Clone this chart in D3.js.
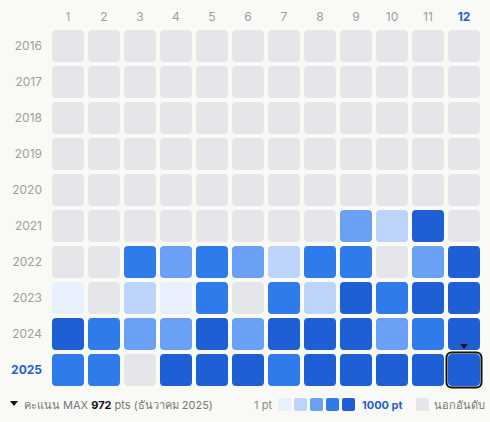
<!DOCTYPE html>
<html><head><meta charset="utf-8">
<script src="https://cdn.jsdelivr.net/npm/d3@7"></script>
<style>body{margin:0;background:#f9f9f6;font-family:Inter,"Noto Sans",sans-serif;}</style>
</head><body><svg id="c" width="490" height="422"></svg>
<script>
const months = ["1","2","3","4","5","6","7","8","9","10","11","12"];
const years = ["2016","2017","2018","2019","2020","2021","2022","2023","2024","2025"];
// points per month, null = out of ranking
const pts2016 = [null,null,null,null,null,null,null,null,null,null,null,null];
const pts2017 = [null,null,null,null,null,null,null,null,null,null,null,null];
const pts2018 = [null,null,null,null,null,null,null,null,null,null,null,null];
const pts2019 = [null,null,null,null,null,null,null,null,null,null,null,null];
const pts2020 = [null,null,null,null,null,null,null,null,null,null,null,null];
const pts2021 = [null,null,null,null,null,null,null,null,420,210,880,null];
const pts2022 = [null,null,650,400,660,410,200,640,630,null,390,870];
const pts2023 = [40,null,210,60,640,null,650,190,860,660,880,900];
const pts2024 = [890,650,400,380,880,420,900,870,910,400,650,890];
const pts2025 = [660,640,null,870,900,880,650,910,890,900,920,972];
const points = [pts2016,pts2017,pts2018,pts2019,pts2020,pts2021,pts2022,pts2023,pts2024,pts2025];
const legendLevels = [1,200,400,650,900];

const svg = d3.select("#c");
const x = d3.scaleBand().domain(months).range([50,482]).paddingInner(4/36).paddingOuter(2/36);
const y = d3.scaleBand().domain(years).range([28,388]).paddingInner(4/36).paddingOuter(2/36);
const color = d3.scaleThreshold().domain([100,300,500,800])
  .range(["#e8f0fd","#bcd3fa","#6aa0f3","#2f7bec","#1f5fd6"]);
const empty = "#e5e6ea";

svg.append("g").selectAll("text").data(months).join("text")
  .attr("x", d => x(d) + x.bandwidth()/2).attr("y", 21)
  .attr("text-anchor","middle").attr("font-size",12)
  .attr("font-weight", d => d === "12" ? 700 : 400)
  .attr("fill", d => d === "12" ? "#1f5fd6" : (d === "1" ? "#c09a94" : "#9a9ea8"))
  .text(d => d);

svg.append("g").selectAll("text").data(years).join("text")
  .attr("x", 42).attr("y", d => y(d) + y.bandwidth()/2 + 4)
  .attr("text-anchor","end").attr("font-size",12)
  .attr("font-weight", d => d === "2025" ? 700 : 400)
  .attr("fill", d => d === "2025" ? "#1f5fd6" : "#a59c9c")
  .text(d => d);

const cells = [];
points.forEach((row, i) => row.forEach((v, j) => cells.push({year: years[i], month: months[j], v})));
svg.append("g").selectAll("rect").data(cells).join("rect")
  .attr("x", d => x(d.month)).attr("y", d => y(d.year))
  .attr("width", x.bandwidth()).attr("height", y.bandwidth())
  .attr("rx", 4)
  .attr("fill", d => d.v == null ? empty : color(d.v));

// highlight max
const maxCell = cells.reduce((a, b) => (b.v || 0) > (a.v || 0) ? b : a);
svg.append("rect")
  .attr("x", x(maxCell.month) - 1.5).attr("y", y(maxCell.year) - 1.5)
  .attr("width", x.bandwidth() + 3).attr("height", y.bandwidth() + 3)
  .attr("rx", 5).attr("fill","none").attr("stroke","#111").attr("stroke-width",2);
const mx = x(maxCell.month) + x.bandwidth()/2, my = y(maxCell.year) - 7;
svg.append("path").attr("d", `M${mx-4},${my-3}L${mx+4},${my-3}L${mx},${my+2}Z`).attr("fill","#111");

// legend
const ly = 409;
svg.append("path").attr("d", `M10,${ly-8}L18,${ly-8}L14,${ly-3}Z`).attr("fill","#111");
const t = svg.append("text").attr("x", 24).attr("y", ly).attr("font-size", 11).attr("fill","#777");
t.append("tspan").text("คะแนน MAX ");
t.append("tspan").attr("font-weight",700).attr("fill","#111").text(maxCell.v);
t.append("tspan").text(" pts (ธันวาคม " + maxCell.year + ")");

svg.append("text").attr("x", 272).attr("y", ly).attr("text-anchor","end")
  .attr("font-size",11).attr("fill","#888").text("1 pt");
svg.append("g").selectAll("rect").data(legendLevels).join("rect")
  .attr("x", (d,i) => 278 + i*16).attr("y", ly - 11).attr("width",13).attr("height",13)
  .attr("rx",2).attr("fill", d => color(d));
svg.append("text").attr("x", 362).attr("y", ly).attr("font-size",11)
  .attr("font-weight",700).attr("fill","#1f5fd6").text("1000 pt");
svg.append("rect").attr("x",416).attr("y",ly-11).attr("width",13).attr("height",13)
  .attr("rx",2).attr("fill",empty);
svg.append("text").attr("x",434).attr("y",ly).attr("font-size",11).attr("fill","#777").text("นอกอันดับ");
</script></body></html>
